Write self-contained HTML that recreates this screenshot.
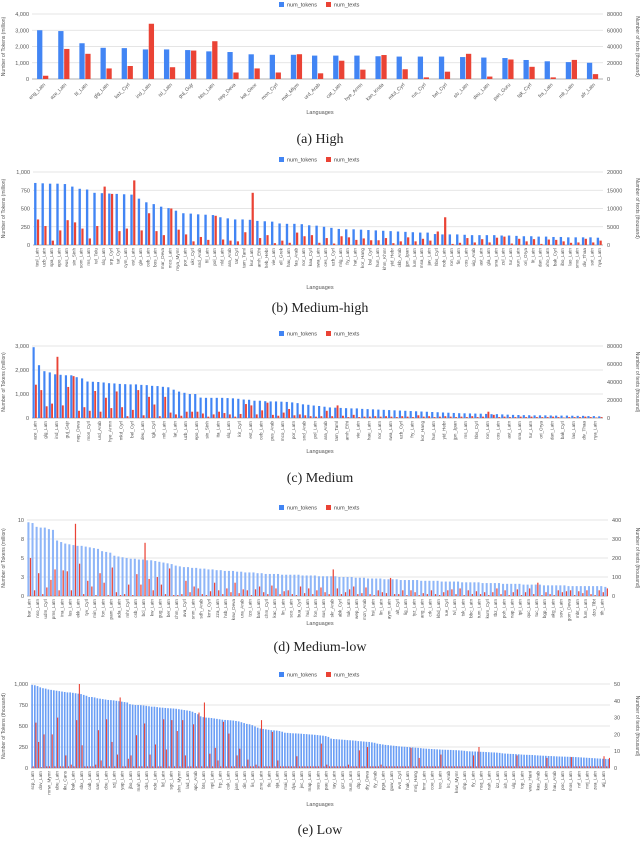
<!DOCTYPE html>
<html><head><meta charset="utf-8"><style>
html,body{margin:0;padding:0;background:#fff;}
svg{display:block;font-family:"Liberation Sans",sans-serif;}
</style></head><body>
<svg id="s" width="640" height="846" viewBox="0 0 640 846" xmlns="http://www.w3.org/2000/svg"></svg>
<script>
// ---- (a) High ----
const catsA=["eng_Latn","aze_Latn","fil_Latn","glg_Latn","kaz_Cyrl","ind_Latn","isl_Latn","guj_Gujr","hbs_Latn","nep_Deva","kat_Geor","mon_Cyrl","mal_Mlym","urd_Arab","cat_Latn","hye_Armn","kan_Knda","mkd_Cyrl","rus_Cyrl","bel_Cyrl","slv_Latn","deu_Latn","pan_Guru","tgk_Cyrl","fra_Latn","mlt_Latn","afr_Latn"];
const tokA=[3000,2950,2200,1920,1900,1820,1820,1780,1700,1660,1520,1490,1490,1440,1440,1440,1400,1380,1380,1380,1350,1320,1290,1170,1090,1040,1000];
const txtA=[4000,37000,31000,13000,16000,68000,14500,35000,46500,8000,13000,8000,30500,7000,22500,11500,29500,12000,2000,9000,31000,3000,24000,15000,2000,23500,6000];
// ---- (b) Medium-high ----
const catsB=["tesl_Latn","uzb_Latn","spa_Latn","epo_Latn","eus_Latn","sin_Sinh","som_Latn","ms_Latn","tel_Telu","slq_Latn","srp_Cyrl","tat_Cyrl","cym_Latn","est_Latn","gle_Latn","ceb_Latn","bos_Latn","mar_Deva","mco_Latn","mya_Mymr","por_Latn","ukr_Cyrl","snd_Arab","fil_Latn","pol_Latn","nld_Latn","ara_Arab","tat_Cyrl","tam_Taml","kur_Latn","amh_Ethi","heb_Hebr","vie_Latn","ell_Grek","hau_Latn","fas_Arab","nor_Latn","kaa_Cyrl","swa_Latn","ces_Latn","uzb_Cyrl","mlg_Latn","fry_Latn","hat_Latn","kor_Hang","bul_Cyrl","hun_Latn","khm_Khmr","yid_Hebr","ckb_Arab","jpn_Jpan","lum_Latn","msa_Latn","jav_Latn","hbs_Cyrl","nob_Latn","ron_Latn","fin_Latn","cos_Latn","uig_Arab","ast_Latn","gla_Latn","sna_Latn","zul_Latn","tur_Latn","sun_Latn","ori_Orya","lit_Latn","dan_Latn","xho_Latn","bak_Cyrl","ibo_Latn","lao_Latn","smo_Latn","div_Thaa","sot_Latn","nya_Latn"];
const tokB=[850,845,840,840,835,800,770,760,715,710,705,700,695,690,635,585,560,525,505,470,435,430,420,415,410,380,365,350,350,345,330,325,320,295,290,290,285,270,265,250,235,220,215,215,210,205,200,195,190,185,180,175,170,170,150,145,145,145,140,135,135,135,135,130,130,125,120,120,115,115,110,110,105,105,105,105,100];
const txtB=[7000,5200,1200,4000,6800,6200,4500,1800,5200,16000,14000,3800,4500,17700,4000,8700,3800,2700,10000,4200,2900,1000,2200,1400,8000,1500,1200,1000,3500,14300,1900,2700,500,1200,600,3400,2400,2700,600,1900,400,2400,2100,1400,1800,1300,1300,1900,500,1000,2100,1000,1700,1200,3700,7600,300,600,1900,700,1600,700,2000,2300,400,1700,1000,1600,300,1500,1400,1000,600,700,1700,700,1200];
// ---- (c) Medium ----
const catsC=["aze_Latn","glg_Latn","ind_Latn","guj_Gujr","nep_Deva","mon_Cyrl","urd_Arab","hye_Armn","mkd_Cyrl","bel_Cyrl","deu_Latn","tgk_Cyrl","mlt_Latn","lat_Latn","uzb_Latn","epo_Latn","sin_Sinh","ita_Latn","slq_Latn","kir_Cyrl","est_Latn","ceb_Latn","pus_Arab","mco_Latn","por_Latn","snd_Arab","pol_Latn","ara_Arab","tam_Taml","amh_Ethi","vie_Latn","hau_Latn","nor_Latn","swa_Latn","uzb_Cyrl","fry_Latn","kor_Hang","hun_Latn","yid_Hebr","jpn_Jpan","ms_Latn","hbs_Cyrl","ron_Latn","cos_Latn","ast_Latn","sna_Latn","tur_Latn","ori_Orya","dan_Latn","bak_Cyrl","lao_Latn","div_Thaa","nya_Latn"];
const tokC=[2950,2200,1950,1900,1820,1800,1780,1780,1700,1650,1520,1510,1500,1480,1450,1440,1420,1410,1400,1400,1380,1370,1340,1330,1300,1280,1180,1100,1050,1000,1000,850,840,840,840,840,830,820,800,770,760,720,720,700,690,690,680,670,650,620,570,550,520,500,470,440,430,420,410,400,400,380,370,360,350,340,330,320,310,300,290,280,270,260,250,240,230,220,210,200,195,190,185,180,170,160,160,150,140,130,125,120,115,110,110,110,105,100,100,100,95,90,90,80,80,70];
const txtC=[37000,31000,13000,16000,68000,14000,34500,46500,8000,12000,8000,30000,7000,22500,11000,29500,12000,2000,9000,31000,3000,23500,15000,2000,23500,6000,4000,2500,7000,7000,7000,5000,1500,4000,7000,5500,4000,1500,4500,15500,14000,4000,8500,17000,3500,2500,6000,10000,3000,4000,3000,2000,1500,2000,8000,2000,14000,2500,1000,3500,1000,1500,1500,2000,1500,2000,1500,1000,2000,1500,1000,3000,1500,2000,1000,1500,2000,1500,1000,1500,1000,2000,1000,1500,7000,3500,1000,1500,1000,1000,1500,1000,1500,1000,1000,1000,1500,1000,500,1000,1000,1000,1500,1000,500,1000];
// ---- (d) Medium-low ----
const catsD=["bar_Latn","nso_Latn","udm_Cyrl","pms_Latn","ina_Latn","lus_Latn","ekk_Latn","tyv_Cyrl","min_Latn","fon_Latn","pam_Latn","ada_Latn","mhr_Cyrl","csb_Latn","bcl_Latn","kw_Latn","gug_Latn","ber_Latn","chm_Latn","ava_Cyrl","snm_Latn","sdh_Arab","kmr_Cyrl","zza_Latn","hsb_Latn","ksw_Deva","ura_Arab","tzo_Latn","ban_Latn","chm_Cyrl","kac_Latn","lin_Latn","sco_Latn","bua_Cyrl","hui_Latn","fon_Latn","sus_Latn","skr_Arab","abk_Cyrl","tuk_Latn","wep_Latn","mzn_Arab","hsi_Latn","lin_Latn","aym_Latn","alt_Cyrl","lig_Latn","tyz_Latn","ang_Latn","crk_Latn","kbd_Latn","rue_Cyrl","tvl_Latn","tsk_Latn","bbc_Latn","tum_Latn","kum_Cyrl","tbz_Latn","poh_Latn","nap_Latn","tpi_Latn","quc_Latn","tuc_Latn","bgp_Latn","akg_Latn","sov_Latn","gom_Deva","mbt_Latn","fum_Latn","dzo_Tibt","tih_Latn"];
const tokD=[9.7,9.6,9.1,9.0,9.0,8.8,8.7,7.3,7.1,6.9,6.8,6.7,6.6,6.6,6.5,6.4,6.3,6.2,5.9,5.8,5.7,5.3,5.2,5.1,5.0,4.9,4.9,4.8,4.8,4.7,4.7,4.6,4.5,4.4,4.3,4.2,4.0,3.9,3.8,3.8,3.7,3.7,3.6,3.6,3.5,3.5,3.4,3.4,3.3,3.3,3.3,3.2,3.2,3.1,3.1,3.1,3.0,3.0,2.9,2.9,2.9,2.9,2.8,2.8,2.8,2.8,2.8,2.7,2.7,2.7,2.7,2.6,2.6,2.6,2.6,2.6,2.5,2.5,2.5,2.5,2.4,2.4,2.4,2.3,2.3,2.3,2.3,2.2,2.2,2.2,2.2,2.1,2.1,2.1,2.1,2.1,2.0,2.0,2.0,2.0,2.0,1.9,1.9,1.9,1.9,1.9,1.8,1.8,1.8,1.8,1.8,1.7,1.7,1.7,1.7,1.7,1.6,1.6,1.6,1.6,1.6,1.5,1.5,1.5,1.5,1.5,1.4,1.4,1.4,1.4,1.4,1.4,1.3,1.3,1.3,1.3,1.3,1.3,1.3,1.3,1.3,1.2];
const txtD=[200,30,120,10,45,85,140,30,135,130,30,380,170,10,80,50,5,120,70,5,150,20,5,10,60,5,115,60,280,90,30,100,60,10,145,5,5,10,80,20,50,40,10,5,25,70,30,10,40,20,70,15,35,30,5,35,50,20,10,55,40,10,25,30,10,5,50,15,40,10,30,45,20,10,140,40,10,20,35,50,10,15,45,10,5,30,20,15,95,10,10,30,5,30,20,5,15,10,30,10,5,20,30,35,10,40,5,30,10,25,10,20,5,20,40,10,30,5,20,35,5,20,40,10,70,5,20,10,5,30,20,25,30,5,25,15,30,10,5,30,20,40];
// ---- (e) Low ----
const catsE=["scp_Latn","dov_Latn","mnw_Mymr","ubu_Latn","iku_Cans","bak_Latn","sbx_Latn","cab_Latn","san_Latn","cbu_Latn","szj_Latn","yap_Latn","jbo_Latn","mah_Latn","cbs_Latn","nde_Latn","lid_Latn","sgc_Latn","shn_Mymr","lad_Latn","apc_Arab","bts_Latn","npi_Latn","frp_Latn","cuk_Latn","jam_Latn","din_Latn","lis_Latn","zne_Latn","tlu_Latn","sja_Latn","mai_Latn","dyu_Latn","jvc_Latn","map_Latn","sus_Latn","pau_Latn","tay_Latn","gcr_Latn","num_Latn","dtp_Latn","dty_Deva","tly_Arab","pga_Latn","guw_Latn","evn_Cyrl","hak_Latn","mnj_Hang","hmr_Latn","coe_Latn","teo_Latn","lrc_Arab","ksw_Mymr","shp_Latn","tly_Latn","nsq_Latn","nah_Latn","izz_Latn","ish_Latn","ulg_Latn","top_Latn","wuu_Hani","kas_Arab","bim_Latn","hau_Arab","poc_Latn","mos_Latn","nrf_Latn","mrj_Latn","zea_Latn","atj_Latn"];
const tokE=[990,985,975,960,950,945,935,930,925,920,915,910,905,900,900,895,890,885,880,870,860,845,845,840,830,825,820,815,810,808,805,800,795,790,785,780,760,755,750,750,748,745,740,735,730,730,725,720,718,715,712,710,708,705,700,695,690,685,680,670,655,640,615,605,600,598,595,590,585,580,575,572,570,568,565,560,555,545,535,525,520,510,495,480,470,465,460,455,450,448,445,440,432,420,418,415,413,412,410,408,405,403,400,398,395,392,388,385,380,370,350,345,343,340,338,335,332,330,328,325,320,318,315,312,310,305,300,290,285,280,275,272,268,265,262,258,255,253,250,248,245,242,240,236,232,230,228,226,224,222,220,218,217,216,215,213,212,210,208,205,200,198,197,196,195,193,192,190,188,186,185,183,180,175,172,170,168,167,165,163,160,158,157,156,155,152,150,148,146,145,143,142,140,138,137,136,135,134,133,132,130,128,126,124,122,120,118,116,114,112,110,108,106];
const txtE=[1,27,15.5,0.5,20,1,1,20,1,30,1,1,7.5,1,2,1,28.5,50,13.5,1,1,1,1,2,22.5,4.5,1,29,1,15.5,1,8,42,1,1,5.5,7.5,1,19.5,1,1,26.5,1,8,1,14,1,1,29,11,1,28.5,1,22,1,28.5,7.5,1,1,26,1,33,1,39,1,8.5,1,12,4.5,1,27.5,1,20.5,1,1,7.5,11.5,1,1,5,1,1,2,1,28.5,1,1,1,21.5,1,4.5,1,1,1,1,1,1,7,1,1,1,1,1,1,1,1,14.5,1,2,1,1,1,1,1,1,1,2,1,1,1,10.5,1,1,12.5,1,1,1,1,2,1,1,1,1,1,1,1,1,1,1,12,1,1,6,1,1,1,1,1,1,1,8,1,1,1,1,1,1,1,1,1,1,1,7.5,1,12.5,1,1,1,1,1,1,1,1,1,1,1,1,1,7.5,1,1,1,1,1,1,1,1,1,1,6,1,1,1,1,1,1,1,1,6.5,1,1,1,1,1,1,1,1,1,1,1,7,1,6];
// tick label arrays
const lTicksA=["0","1,000","2,000","3,000","4,000"], rTicksA=["0","20000","40000","60000","80000"];
const lTicksB=["0","250","500","750","1,000"], rTicksB=["0","5000","10000","15000","20000"];
const lTicksC=["0","1,000","2,000","3,000"], rTicksC=["0","20000","40000","60000","80000"];
const lTicksD=["0","3","5","8","10"], rTicksD=["0","100","200","300","400"];
const lTicksE=["0","250","500","750","1,000"], rTicksE=["0","10","20","30","40","50"];

const NS="http://www.w3.org/2000/svg", svg=document.getElementById('s');
function mk(tag,attrs,parent,txt){const e=document.createElementNS(NS,tag);for(const k in attrs)e.setAttribute(k,attrs[k]);if(txt!==undefined)e.textContent=txt;(parent||svg).appendChild(e);return e;}

function chart(o){
  const g=mk('g',{});
  
  
  const W=o.right-o.left, H=o.bottom-o.top, n=o.tok.length, pitch=W/n;
  const yL=v=>o.bottom-v/o.lmax*H, yR=v=>o.bottom-v/o.rmax*H;
  // gridlines + left ticks
  o.lt.forEach((t,i)=>{
    const y=o.bottom-i/(o.lt.length-1)*H;
    const gl=mk('line',{x1:o.left,x2:o.right,y1:y,y2:y,stroke:i==0?'#999':'#ddd','stroke-width':i==0?0.7:0.8},g);
    
    
    const tl=mk('text',{x:o.left-3,y:y+2,'font-size':5.5,fill:'#555','text-anchor':'end'},g,t);
    
    
  });
  o.rt.forEach((t,i)=>{
    const y=o.bottom-i/(o.rt.length-1)*H;
    const tl=mk('text',{x:o.right+4,y:y+2,'font-size':5.5,fill:'#555'},g,t);
    
    
  });
  // bars
  for(let i=0;i<n;i++){
    const x0=o.left+i*pitch+pitch*o.off;
    const b=mk('rect',{x:x0,y:yL(o.tok[i]),width:pitch*o.bw,height:o.bottom-yL(o.tok[i]),fill:o.blue},g);
    
    
    const r=mk('rect',{x:x0+pitch*o.rgap,y:yR(o.txt[i]),width:pitch*o.rw,height:o.bottom-yR(o.txt[i]),fill:'#ea4335'},g);
    
    
  }
  // category labels
  o.cats.forEach((c,j)=>{
    const i=j*o.step; if(i>=n)return;
    const cx=o.left+(i+0.5)*pitch;
    let t;
    if(o.rot45){t=mk('text',{x:cx+3,y:o.bottom+6,'font-size':5,fill:'#555','text-anchor':'end',transform:`rotate(-45 ${cx+3} ${o.bottom+6})`},g,c);}
    else{t=mk('text',{x:cx+1.6,y:o.bottom+3,'font-size':4.6,fill:'#555','text-anchor':'end',transform:`rotate(-90 ${cx+1.6} ${o.bottom+3})`},g,c);}
    
    
  });
  // axis titles
  const my=(o.top+o.bottom)/2;
  const at1=mk('text',{x:5,y:my,'font-size':5,fill:'#555','text-anchor':'middle',transform:`rotate(-90 5 ${my})`},g,o.ltitle);
  
  
  const at2=mk('text',{x:636,y:my,'font-size':5,fill:'#555','text-anchor':'middle',transform:`rotate(90 636 ${my})`},g,'Number of texts (thousand)');
  
  
  const xt=mk('text',{x:320,y:o.langY,'font-size':5.5,fill:'#555','text-anchor':'middle'},g,'Languages');
  
  
  // legend
  const lg=mk('g',{},g);
  
  
  mk('rect',{x:279,y:o.legY-3,width:5,height:5,fill:'#4285f4'},lg);
  mk('text',{x:287,y:o.legY+1.5,'font-size':5.5,fill:'#444'},lg,'num_tokens');
  mk('rect',{x:326,y:o.legY-3,width:5,height:5,fill:'#ea4335'},lg);
  mk('text',{x:334,y:o.legY+1.5,'font-size':5.5,fill:'#444'},lg,'num_texts');
  const cap=mk('text',{x:320,y:o.capY,'font-size':14,fill:'#222','text-anchor':'middle','font-family':'"Liberation Serif",serif'},g,o.caption);
  
  
}
const TM='Number of Tokens (million)';
chart({id:'high',cats:catsA,tok:tokA,txt:txtA,lt:lTicksA,rt:rTicksA,lmax:4000,rmax:80000,left:32,right:603,top:14,bottom:79,step:1,rot45:true,off:0.24,bw:0.25,rgap:0.28,rw:0.25,blue:'#4285f4',ltitle:TM,langY:114,legY:5,capY:143,caption:'(a) High'});
chart({id:'medium-high',cats:catsB,tok:tokB,txt:txtB,lt:lTicksB,rt:rTicksB,lmax:1000,rmax:20000,left:33,right:603,top:172,bottom:245,step:1,off:0.15,bw:0.32,rgap:0.38,rw:0.3,blue:'#4285f4',ltitle:TM,langY:289,legY:160,capY:312,caption:'(b) Medium-high'});
chart({id:'medium',cats:catsC,tok:tokC,txt:txtC,lt:lTicksC,rt:rTicksC,lmax:3000,rmax:80000,left:32,right:603,top:346,bottom:418,step:2,off:0.1,bw:0.4,rgap:0.45,rw:0.35,blue:'#4285f4',ltitle:TM,langY:453,legY:334,capY:482,caption:'(c) Medium'});
chart({id:'medium-low',cats:catsD,tok:tokD,txt:txtD,lt:lTicksD,rt:rTicksD,lmax:10,rmax:400,left:27,right:608,top:520,bottom:596,step:2,off:0.1,bw:0.5,rgap:0.6,rw:0.3,blue:'#8fb6f8',ltitle:TM,langY:625,legY:508,capY:651,caption:'(d) Medium-low'});
chart({id:'low',cats:catsE,tok:tokE,txt:txtE,lt:lTicksE,rt:rTicksE,lmax:1000,rmax:50,left:31,right:610,top:684,bottom:768,step:3,off:0.1,bw:0.6,rgap:0.5,rw:0.4,blue:'#6a9ef5',ltitle:'Number of Tokens (thousand)',langY:806,legY:675,capY:834,caption:'(e) Low'});
</script>
</body></html>
